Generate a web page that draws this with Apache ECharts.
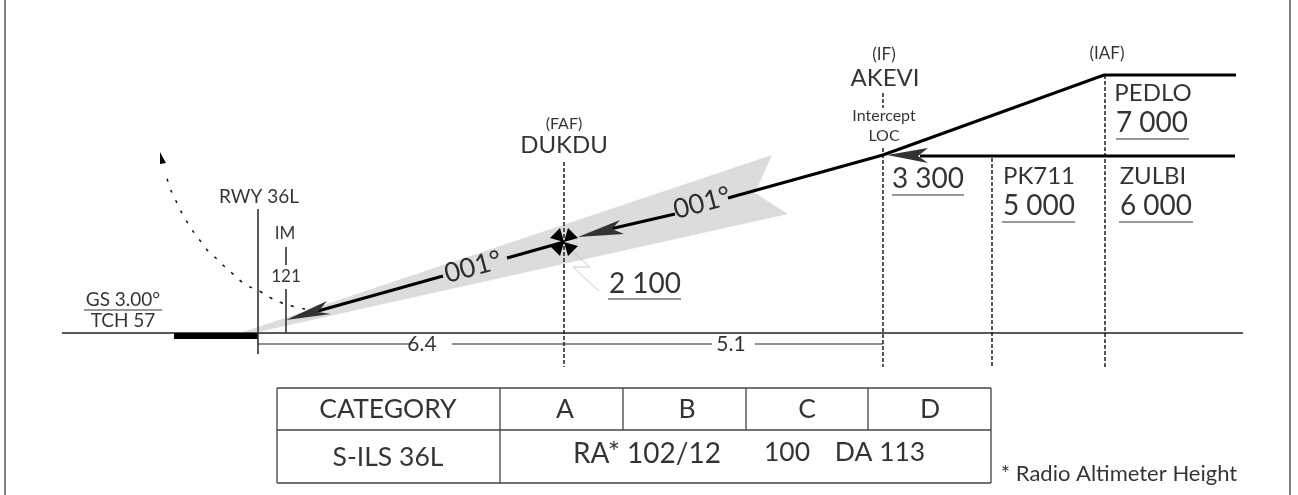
<!DOCTYPE html>
<html><head><meta charset="utf-8">
<style>html,body{margin:0;padding:0;background:#fff}#c{width:1298px;height:495px}</style>
<script src="https://cdn.jsdelivr.net/npm/echarts@6/dist/echarts.min.js"></script>
</head><body><div id="c"></div>
<script>
// schematic plan coordinates (x along the profile, y downward)
const frame = [[5,0],[5,495],null,[1290,0],[1290,495]];
const ground = [[62,333],[1243,333]];
const runway = [[174,336],[258,336]];
const thresholdLine = [[258,209],[258,354]];
const imLine = [[286,247],[286,265],null,[286,289],[286,333]];
const distanceLine = [[258,344],[409,344],null,[452,344],[712,344],null,[755,344],[883,344]];
const fixDashed = [[564,162],[564,367],null,[883,93],[883,108],null,[883,148],[883,367],null,[992,158],[992,367],null,[1105,75],[1105,367]];
const trackThick = [[300,316],[443,276],null,[507,258],[564,242],null,[610,229],[675,214],null,[728,198],[883,155],[1104,75],[1236,75],null,[920,156],[1235,156]];
const underlines = [[84,310],[162,310],null,[608,299],[681,299],null,[892,195],[964,195],null,[1002,222],[1075,222],null,[1119,222],[1193,222],null,[1116,139],[1189,139]];
const callout = [[573,252],[590,267],[573,267],[599,291]];
const missedDots = [[305,309],[292,306],[282,303],[271,298],[261,292],[252,288],[242,282],[233,274],[225,267],[217,259],[208,251],[202,243],[195,234],[189,225],[183,215],[178,205],[173,195],[169,185],[166,174]];
const wedge = [[240,333],[772,155],[755,193],[788,214],[258,332]];
const arrowHeads = [
  [[286,320],[327,301],[318,312],[331,314]],
  [[578,237],[620,220],[612,229],[624,234]],
  [[887,155],[928,148],[918,156],[928,163]]
];
const missedHead = [[160,152],[166,163],[160,164]];
const fafPetals = [
  [[564,242],[550,238],[560,228]],
  [[564,242],[568,228],[578,238]],
  [[564,242],[550,246],[560,256]],
  [[564,242],[568,256],[578,246]]
];
const tableRows = [388,430,483];
const tableCols = [277,500,991];
const tableHeaderCols = [623,746,868];
const nameText = [['DUKDU',564,145],['AKEVI',885,78],['PEDLO',1153,93],['PK711',1039,176],['ZULBI',1153,176]];
const altitudeText = [['7 000',1152,123],['2 100',645,284],['3 300',928,179],['5 000',1039,206],['6 000',1156,206],['RA* 102/12',647,454]];
const tableText = [['CATEGORY',388,409],['S-ILS 36L',388,457],['A',565,409],['B',687,409],['C',807,409],['D',930,409],['100',787,452],['DA 113',880,452]];
const procedureText = [['GS 3.00°',123,300],['TCH 57',123,321],['RWY 36L',259,197]];
const distanceText = [['6.4',422,344],['5.1',731,344]];
const footnoteText = [['* Radio Altimeter Height',1119,474]];
const fixRoleText = [['IM',285,234],['121',286,277],['(IF)',884,55],['(IAF)',1107,54]];
const tinyText = [['(FAF)',564,124],['Intercept',884,116],['LOC',884,136]];
const bearingText = [['001°',473,267],['001°',702,203]];

const FONT = 'Lato';
const tableLines = [];
tableRows.forEach(y => tableLines.push([tableCols[0],y],[tableCols[2],y],null));
tableCols.forEach(x => tableLines.push([x,tableRows[0]],[x,tableRows[2]],null));
tableHeaderCols.forEach(x => tableLines.push([x,tableRows[0]],[x,tableRows[1]],null));

const toData = pts => pts.map(p => p ? p : [null,null]);
const line = (name,pts,color,width,type,z) => ({name,type:'line',data:toData(pts),symbol:'none',silent:true,animation:false,z:z||3,connectNulls:false,
  lineStyle:{color,width,type:type||'solid',cap:'butt',join:'miter'}});
const poly = (name,shapes,color,z) => ({name,type:'custom',coordinateSystem:'cartesian2d',silent:true,animation:false,z:z||4,clip:false,
  data:shapes.map((s,i)=>[i]),encode:{x:0,y:0},
  renderItem:(params,api)=>({type:'polygon',shape:{points:shapes[params.dataIndex].map(p=>api.coord(p))},style:{fill:color}})});
const text = (name,rows,size,rot) => ({name,type:'scatter',symbolSize:0,silent:true,animation:false,z:6,
  data:rows.map(r=>({name:r[0],value:[r[1],r[2]]})),
  label:{show:true,position:'inside',formatter:'{b}',fontFamily:FONT,fontSize:size,fontWeight:400,color:'#000',rotate:rot||0,align:'center',verticalAlign:'middle'}});

const chart = echarts.init(document.getElementById('c'),null,{renderer:'canvas'});
chart.setOption({
  animation:false,backgroundColor:'#fff',
  grid:{left:0,right:0,top:0,bottom:0},
  xAxis:{type:'value',min:0,max:1298,show:false},
  yAxis:{type:'value',min:0,max:495,inverse:true,show:false},
  series:[
    poly('wedge',[wedge],'#dcdcdc',1),
    line('frame',frame,'#808080',2),
    line('ground',ground,'#222',1.3),
    line('runway',runway,'#000',6),
    line('threshold',thresholdLine,'#333',1.6),
    line('im',imLine,'#333',1.6),
    line('distance',distanceLine,'#222',1.2),
    line('fixes',fixDashed,'#111',1.4,[4,2]),
    line('track',trackThick,'#000',3.2),
    line('underlines',underlines,'#333',1.2),
    line('table',tableLines,'#444',1.3),
    line('callout',callout,'#bbb',0.8),
    Object.assign(line('missed',missedDots,'#111',1.5,[3,8.5]),{smooth:true}),
    poly('arrows',arrowHeads,'#333',5),
    poly('missedHead',[missedHead],'#000',5),
    poly('faf',fafPetals,'#000',5),
    text('names',nameText,24),
    text('altitudes',altitudeText,28),
    text('tableCells',tableText,26.5),
    text('procedure',procedureText,19),
    text('distances',distanceText,21),
    text('footnote',footnoteText,22),
    text('fixRoles',fixRoleText,17),
    text('tiny',tinyText,16),
    text('bearing',bearingText,27,15)
  ]
});
</script></body></html>
